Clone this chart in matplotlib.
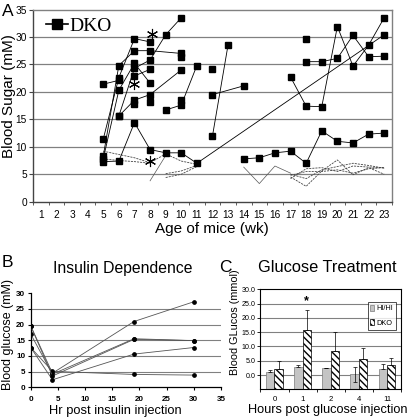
import matplotlib
matplotlib.use('Agg')
import matplotlib.pyplot as plt
from matplotlib.lines import Line2D
import numpy as np

plt.rcParams['font.family'] = ['Liberation Sans', 'DejaVu Sans']

W, H = 409, 420

# ---------------- Panel A data ----------------
week_labels = [str(w) for w in range(1, 24)]

# DKO mice (solid lines, square markers)
dko1_wk = [5, 6];                      dko1_val = [21.4, 22.1]
dko2_wk = [5, 6, 7, 8];                dko2_val = [11.4, 22.6, 29.7, 29.1]
dko3_wk = [5, 6, 7, 8, 10];            dko3_val = [8.3, 24.8, 27.5, 27.5, 27.0]
dko4_wk = [5, 6, 7, 8];                dko4_val = [7.8, 20.3, 25.2, 21.6]
dko5_wk = [6, 7, 8, 10];               dko5_val = [15.6, 18.5, 19.5, 24.0]
dko6_wk = [6, 7, 8, 9, 10];            dko6_val = [15.6, 24.3, 25.8, 30.4, 33.5]
dko7_wk = [5, 6, 7, 8, 9, 10, 11, 23]; dko7_val = [7.3, 7.4, 14.4, 9.5, 8.9, 8.9, 7.0, 30.4]
dko8_wk = [7, 8];                      dko8_val = [22.9, 24.1]
dko9_wk = [9, 10, 11];                 dko9_val = [16.7, 17.6, 24.8]
dko10_wk = [12];                       dko10_val = [24.1]
dko11_wk = [12, 14];                   dko11_val = [19.5, 21.1]
dko12_wk = [12, 13];                   dko12_val = [12.0, 28.6]
dko13_wk = [14, 15, 16, 17, 18, 19, 20, 21, 22, 23]
dko13_val = [7.8, 8.0, 8.9, 9.2, 7.0, 12.9, 11.0, 10.7, 12.3, 12.5]
dko14_wk = [17, 18, 19, 20, 21, 22, 23]; dko14_val = [22.7, 17.4, 17.3, 31.9, 24.7, 28.5, 33.5]
dko15_wk = [18, 19, 20, 21, 22, 23];     dko15_val = [25.5, 25.5, 26.1, 30.3, 26.4, 26.5]
dko16_wk = [18];                         dko16_val = [29.7]
dko_extra_wk = [7, 8, 10, 10];           dko_extra_val = [17.8, 18.2, 26.4, 18.5]

# control mice (dashed, no markers)
ctl1_wk = [5, 6, 7, 8, 9, 10, 11];  ctl1_val = [9.2, 8.6, 8.0, 7.1, 8.7, 7.4, 6.8]
ctl2_wk = [5, 6, 7, 8];             ctl2_val = [7.8, 7.5, 7.3, 7.0]
ctl3_wk = [9, 10, 11];              ctl3_val = [5.1, 5.6, 6.6]
ctl4_wk = [9, 10, 11];              ctl4_val = [4.4, 5.0, 6.4]
ctl5_wk = [17, 18, 19, 20, 21, 22, 23]; ctl5_val = [4.5, 2.8, 5.6, 7.6, 4.9, 6.2, 5.0]
ctl6_wk = [17, 18, 19, 20, 21, 22, 23]; ctl6_val = [5.0, 4.2, 5.8, 6.4, 7.0, 6.6, 6.1]
ctl7_wk = [17, 18, 19, 20, 21, 22, 23]; ctl7_val = [4.8, 5.5, 5.5, 5.8, 5.2, 6.0, 6.2]
ctl8_wk = [17, 18, 19, 20, 21, 22, 23]; ctl8_val = [4.2, 6.0, 6.2, 5.5, 6.5, 6.3, 6.2]
# thin solid gray controls
thin1_wk = [8, 9];                  thin1_val = [3.8, 8.4]
thin2_wk = [14, 15, 16, 17];        thin2_val = [6.3, 3.3, 6.5, 5.2]

star_a_wk = [8.1, 7.0, 8.0]
star_a_val = [30.6, 21.4, 7.4]

# ---------------- Panel B data ----------------
ins_hours = [0, 4, 19, 30]
ins_m1 = [19.6, 4.5, 21.0, 27.3]
ins_m2 = [17.0, 4.2, 15.5, 14.9]
ins_m3 = [12.7, 2.4, 10.6, 12.7]
ins_m4 = [12.7, 5.1, 4.1, 3.9]
ins_m5 = [19.6, 3.6, 15.3, 14.9]

# ---------------- Panel C data ----------------
glc_hours = ['0', '1', '2', '4', '11']
hihi_mean = [0.95, 2.9, 2.35, 0.25, 2.1]
hihi_err = [0.8, 0.6, 0.2, 2.6, 1.6]
dko_mean = [2.0, 15.8, 8.4, 5.6, 3.5]
dko_err = [2.9, 7.0, 6.6, 3.7, 2.6]
star_c_idx = 1
star_c_val = 25.7

fig = plt.figure(figsize=(W / 100, H / 100), dpi=100)


def fx(px):
    return px / W


def fy(py):
    return 1 - py / H


# ================= Panel A =================
axA = fig.add_axes([fx(33), fy(201.7), fx(392) - fx(33), fy(9.5) - fy(201.7)])
axA.set_xlim(0.5, 23.5)
axA.set_ylim(0, 35)
for v in range(5, 35, 5):
    axA.axhline(v, color='#808080', lw=0.9, zorder=0)

ctl_list = [(ctl1_wk, ctl1_val), (ctl2_wk, ctl2_val), (ctl3_wk, ctl3_val), (ctl4_wk, ctl4_val),
            (ctl5_wk, ctl5_val), (ctl6_wk, ctl6_val), (ctl7_wk, ctl7_val), (ctl8_wk, ctl8_val)]
for wk, val in ctl_list:
    axA.plot(wk, val, color='#444444', lw=0.6, dashes=(2.5, 1.2), zorder=2)
for wk, val in [(thin1_wk, thin1_val), (thin2_wk, thin2_val)]:
    axA.plot(wk, val, color='#555555', lw=0.5, zorder=2)

dko_list = [(dko1_wk, dko1_val), (dko2_wk, dko2_val), (dko3_wk, dko3_val), (dko4_wk, dko4_val),
            (dko5_wk, dko5_val), (dko6_wk, dko6_val), (dko7_wk, dko7_val), (dko8_wk, dko8_val),
            (dko9_wk, dko9_val), (dko10_wk, dko10_val), (dko11_wk, dko11_val), (dko12_wk, dko12_val),
            (dko13_wk, dko13_val), (dko14_wk, dko14_val), (dko15_wk, dko15_val), (dko16_wk, dko16_val)]
for wk, val in dko_list:
    axA.plot(wk, val, color='black', lw=0.6, marker='s', ms=4.3, mfc='black', mec='black', zorder=3)
axA.plot(dko_extra_wk, dko_extra_val, ls='none', marker='s', ms=4.3, color='black', zorder=3)

axA.plot(star_a_wk, star_a_val, ls='none', marker=(6, 2, 0), ms=8, color='black', mew=0.8, zorder=4)

axA.set_xticks(range(1, 24))
axA.set_xticklabels(week_labels, fontsize=7.3)
axA.set_xticks(np.arange(0.5, 24, 1), minor=True)
axA.tick_params(axis='x', which='major', length=0, pad=6)
axA.tick_params(axis='x', which='minor', length=2.5, direction='out', color='#444444')
axA.set_yticks(range(0, 36, 5))
axA.set_yticklabels([str(v) for v in range(0, 36, 5)], fontsize=7.3)
axA.tick_params(axis='y', length=3, color='#444444', pad=1.5)
for s in ['top', 'right']:
    axA.spines[s].set_color('#808080')
    axA.spines[s].set_linewidth(1.0)
for s in ['left', 'bottom']:
    axA.spines[s].set_color('#444444')
    axA.spines[s].set_linewidth(1.0)

legA = axA.legend(handles=[Line2D([], [], color='black', lw=1.2, marker='s', ms=7)], labels=['DKO'],
                  loc='upper left', bbox_to_anchor=(0.005, 1.02), frameon=False,
                  prop={'family': 'Liberation Serif', 'size': 14}, handlelength=1.1,
                  handletextpad=0.1, borderaxespad=0.2)

fig.text(fx(212), fy(229), 'Age of mice (wk)', fontsize=11, ha='center', va='center')
fig.text(fx(9), fy(96.5), 'Blood Sugar (mM)', fontsize=11, ha='center', va='center', rotation=90)
fig.text(fx(2), fy(16), 'A', fontsize=12.5, ha='left', va='baseline')

# ================= Panel B =================
axB = fig.add_axes([fx(30.7), fy(387.3), fx(221) - fx(30.7), fy(293.3) - fy(387.3)])
axB.set_xlim(0, 35)
axB.set_ylim(0, 30)
for v in range(5, 30, 5):
    axB.axhline(v, color='#808080', lw=0.8, zorder=0)
for m in [ins_m1, ins_m2, ins_m3, ins_m4, ins_m5]:
    axB.plot(ins_hours, m, color='#555555', lw=0.6, marker='o', ms=2.4, mfc='black', mec='black', zorder=3)
axB.set_xticks(range(0, 36, 5))
axB.set_xticklabels([str(v) for v in range(0, 36, 5)], fontsize=5.8, fontweight='bold')
axB.set_yticks(range(0, 31, 5))
axB.set_yticklabels([str(v) for v in range(0, 31, 5)], fontsize=5.8, fontweight='bold')
axB.tick_params(length=2.5, width=0.8, pad=1.5)
axB.tick_params(axis='x', pad=4)
axB.spines['top'].set_visible(False)
axB.spines['right'].set_visible(False)
for s in ['left', 'bottom']:
    axB.spines[s].set_linewidth(0.9)
fig.text(fx(115), fy(411), 'Hr post insulin injection', fontsize=9.3, ha='center', va='center')
fig.text(fx(8), fy(335), 'Blood glucose (mM)', fontsize=9, ha='center', va='center', rotation=90)
fig.text(fx(2), fy(267), 'B', fontsize=12.5, ha='left', va='baseline')
fig.text(fx(53), fy(272.5), 'Insulin Dependence', fontsize=11.3, ha='left', va='baseline')

# ================= Panel C =================
axC = fig.add_axes([fx(260.4), fy(389.3), fx(401) - fx(260.4), fy(289.3) - fy(389.3)])
axC.set_xlim(-0.5, 4.5)
axC.set_ylim(-5, 30)
for v in range(0, 30, 5):
    axC.axhline(v, color='#808080', lw=0.8, zorder=0)
xc = np.arange(len(glc_hours))
base = -5
bw = 0.3
axC.bar(xc - bw / 2, np.array(hihi_mean) - base, bottom=base, width=bw, color='#c4c4c4',
        edgecolor='#7a7a7a', lw=0.5, zorder=2, label='HI/HI')
axC.bar(xc + bw / 2, np.array(dko_mean) - base, bottom=base, width=bw, color='white',
        edgecolor='black', lw=0.5, hatch='\\\\\\\\\\', zorder=2, label='DKO')
hihi_low = [0, 0, 0, hihi_err[3], 0]
axC.errorbar(xc - bw / 2, hihi_mean, yerr=[hihi_low, hihi_err], fmt='none', ecolor='black',
             elinewidth=0.5, capsize=1.3, capthick=0.5, zorder=3)
axC.errorbar(xc + bw / 2, dko_mean, yerr=[[0] * 5, dko_err], fmt='none', ecolor='black',
             elinewidth=0.5, capsize=1.3, capthick=0.5, zorder=3)
axC.text(star_c_idx + bw / 2, star_c_val, '*', fontsize=9, fontweight='bold', ha='center', va='center')
axC.set_xticks(xc)
axC.set_xticklabels(glc_hours, fontsize=5.6)
axC.set_xticks(np.arange(-0.5, 4.6, 1), minor=True)
axC.tick_params(axis='x', which='major', length=0, pad=5)
axC.tick_params(axis='x', which='minor', length=2, width=0.6)
axC.set_yticks(range(0, 31, 5))
axC.set_yticklabels(['%.1f' % v for v in range(0, 31, 5)], fontsize=5.1)
axC.tick_params(axis='y', length=2.5, width=0.6, pad=0.8)
for s in axC.spines.values():
    s.set_linewidth(0.8)
legC = axC.legend(loc='upper right', bbox_to_anchor=(0.965, 0.875), fontsize=5.3, frameon=True,
                  fancybox=False, edgecolor='black', handlelength=0.5, handleheight=0.9,
                  handletextpad=0.3, borderpad=0.4, labelspacing=0.9, borderaxespad=0)
legC.get_frame().set_linewidth(0.6)
fig.text(fx(328), fy(410.5), 'Hours post glucose injection', fontsize=9.2, ha='center', va='center')
fig.text(fx(235.5), fy(322), 'Blood GLucos (mmol)', fontsize=7.8, ha='center', va='center', rotation=90)
fig.text(fx(219), fy(272), 'C', fontsize=12.5, ha='left', va='baseline')
fig.text(fx(258), fy(272.5), 'Glucose Treatment', fontsize=11.8, ha='left', va='baseline')

fig.savefig('out.png', dpi=100)
